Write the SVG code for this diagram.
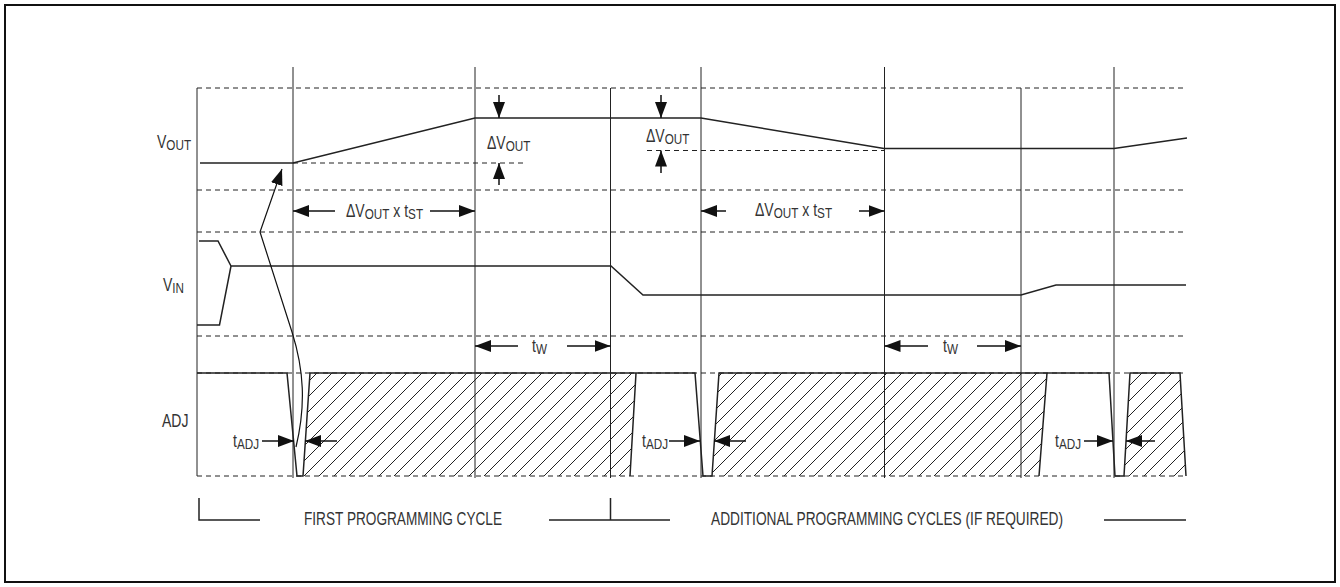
<svg xmlns="http://www.w3.org/2000/svg" width="1340" height="587" viewBox="0 0 1340 587">
<style>
.grid{stroke:#222;stroke-width:1;stroke-dasharray:5 4;fill:none}
.vl{stroke:#222;stroke-width:1;fill:none}
.sig{stroke:#222;stroke-width:1.5;fill:none;stroke-linejoin:miter}
.dim{stroke:#111;stroke-width:1.5;fill:none;marker-end:url(#ah)}
text{font-family:"Liberation Sans",Arial,sans-serif;font-size:18px;fill:#333}
.sub{font-size:15px}
.big{font-size:19px}
</style>
<defs>
<marker id="ah" viewBox="0 0 16 12" refX="16" refY="6" markerWidth="16" markerHeight="12" markerUnits="userSpaceOnUse" orient="auto"><path d="M0,0 L16,6 L0,12 z" fill="#111"/></marker>
<pattern id="hatch" patternUnits="userSpaceOnUse" width="15" height="15"><path d="M-1,1 L1,-1 M0,15 L15,0 M14,16 L16,14" stroke="#222" stroke-width="1"/></pattern>
</defs>
<rect x="5" y="5" width="1330" height="577" fill="#fff" stroke="#111" stroke-width="2"/>

<g id="grid">
<path class="grid" d="M197 88 H1187 M197 190 H1187 M197 232 H1187 M197 336 H1187 M197 373 H1187 M197 476 H1187 M293 163 H527 M647 150.5 H884"/>
<path class="vl" d="M197 88 V476 M293 67 V478 M475 67 V478 M610.5 88 V478 M701 67 V478 M884.5 67 V478 M1021 88 V478 M1114 67 V478"/>
</g>

<g id="vout">
<text transform="translate(157,148) scale(0.78,1)">V<tspan class="sub" dy="2">OUT</tspan></text>
<path class="sig" d="M200 163 L293 163 L475 118 L701 118 L884 148.5 L1114 148.5 L1187 138"/>
</g>

<g id="vin">
<text transform="translate(163,291) scale(0.78,1)">V<tspan class="sub" dy="2">IN</tspan></text>
<path class="sig" d="M199 241 L218 241 L231 266 L611 266 L643 295 L1021 295 L1056 285 L1186 285 M197 325 L219.5 325 L231 266"/>
</g>

<g id="adj">
<text transform="translate(162,427) scale(0.78,1)">ADJ</text>
<path fill="url(#hatch)" d="M303 476 L310 373 L636 373 L630 476 Z M712 476 L719 373 L1047 373 L1039 476 Z M1124 476 L1130 373 L1180 373 L1186 476 Z"/>
<path class="sig" d="M197 373 L287 373 L297 476 L303 476 L310 373 L695 373 L703 476 L712 476 L719 373 L1109 373 L1115 476 L1124 476 L1130 373 L1180 373 L1186 476 M636 373 L630 476 M1047 373 L1039 476"/>
</g>

<g id="labels">
<text transform="translate(487,149) scale(0.78,1)">ΔV<tspan class="sub" dy="2">OUT</tspan></text>
<text transform="translate(646,142) scale(0.78,1)">ΔV<tspan class="sub" dy="2">OUT</tspan></text>
<text transform="translate(346,217) scale(0.78,1)">ΔV<tspan class="sub" dy="2">OUT</tspan><tspan dy="-2"> x t</tspan><tspan class="sub" dy="2">ST</tspan></text>
<text transform="translate(755,216) scale(0.78,1)">ΔV<tspan class="sub" dy="2">OUT</tspan><tspan dy="-2"> x t</tspan><tspan class="sub" dy="2">ST</tspan></text>
<text transform="translate(532,352) scale(0.78,1)">t<tspan class="sub" dy="2">W</tspan></text>
<text transform="translate(943,352) scale(0.78,1)">t<tspan class="sub" dy="2">W</tspan></text>
<text transform="translate(233,447) scale(0.78,1)">t<tspan class="sub" dy="2">ADJ</tspan></text>
<text transform="translate(642,447) scale(0.78,1)">t<tspan class="sub" dy="2">ADJ</tspan></text>
<text transform="translate(1055,447) scale(0.78,1)">t<tspan class="sub" dy="2">ADJ</tspan></text>
<text class="big" x="304" y="524.5" textLength="198" lengthAdjust="spacingAndGlyphs">FIRST PROGRAMMING CYCLE</text>
<text class="big" x="711" y="524.5" textLength="352" lengthAdjust="spacingAndGlyphs">ADDITIONAL PROGRAMMING CYCLES (IF REQUIRED)</text>
</g>

<g id="connectors">
<path class="dim" d="M499 95 L499 118"/>
<path class="dim" d="M499 185 L499 163"/>
<path class="dim" d="M661 95 L661 118"/>
<path class="dim" d="M661 173 L661 150.5"/>
<path class="dim" d="M335 211 L293 211"/>
<path class="dim" d="M430 211 L475 211"/>
<path class="dim" d="M726 211 L701 211"/>
<path class="dim" d="M859 211 L884.5 211"/>
<path class="dim" d="M518 346 L475 346"/>
<path class="dim" d="M567 346 L610.5 346"/>
<path class="dim" d="M928 346 L884.5 346"/>
<path class="dim" d="M977 346 L1021 346"/>
<path class="dim" d="M262 441 L294 441"/>
<path class="dim" d="M337 441 L305 441"/>
<path class="dim" d="M669 441 L700 441"/>
<path class="dim" d="M746 441 L714 441"/>
<path class="dim" d="M1084 441 L1113 441"/>
<path class="dim" d="M1155 441 L1126 441"/>
<path class="dim" style="stroke-width:1.2" d="M296 447 C306 405 304 370 292 332 L260 232 L282 169"/>
<path class="vl" style="stroke-width:1.5" d="M199 498 V520 H260 M549 520 H670 M610.5 498 V520 M1104 520 H1186"/>
</g>
</svg>
